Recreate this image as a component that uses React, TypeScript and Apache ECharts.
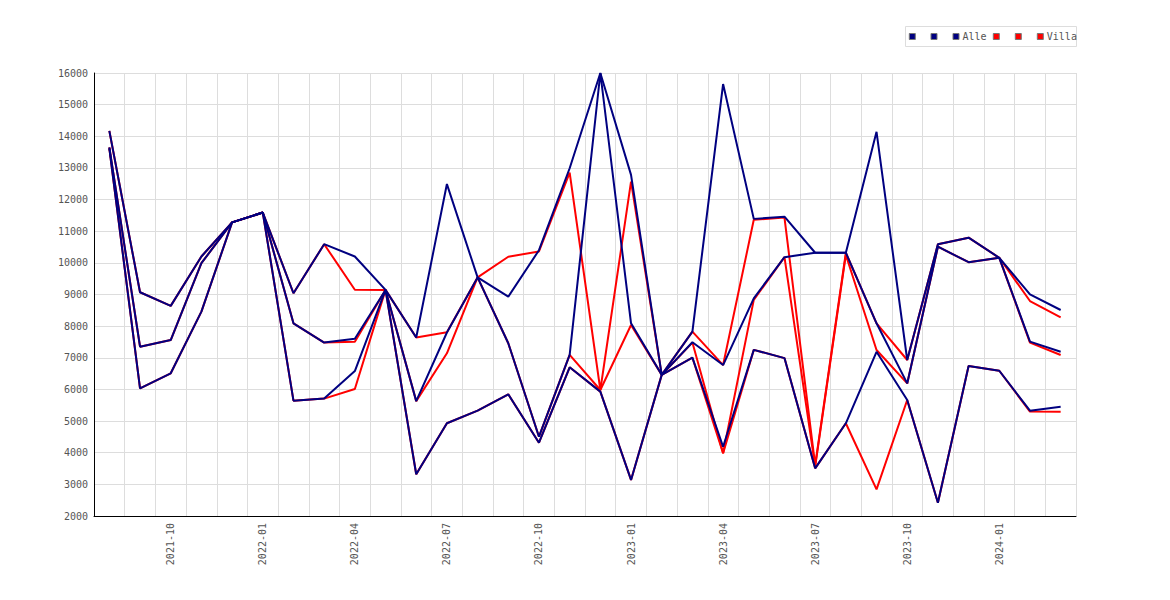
import React, { useEffect, useRef } from 'react';
import * as echarts from 'echarts';

const months = [
  '2021-08', '2021-09', '2021-10', '2021-11', '2021-12',
  '2022-01', '2022-02', '2022-03', '2022-04', '2022-05', '2022-06', '2022-07', '2022-08', '2022-09', '2022-10', '2022-11', '2022-12',
  '2023-01', '2023-02', '2023-03', '2023-04', '2023-05', '2023-06', '2023-07', '2023-08', '2023-09', '2023-10', '2023-11', '2023-12',
  '2024-01', '2024-02', '2024-03',
];

const alleHigh = [14170, 9070, 8640, 10200, 11280, 11590, 9040, 10590, 10200, 9145, 7640, 12490, 9540, 8930, 10400, 12990, 16000, 12780, 6460, 7825, 15650, 11390, 11460, 10320, 10320, 14140, 6930, 10585, 10795, 10160, 9005, 8510];
const alleMid = [13650, 7350, 7560, 9990, 11280, 11590, 8090, 7480, 7600, 9145, 5630, 7800, 9540, 7460, 4506, 7090, 16000, 8090, 6460, 7490, 6770, 8880, 10180, 10320, 10320, 8090, 6190, 10510, 10020, 10160, 7510, 7190];
const alleLow = [13620, 6035, 6510, 8460, 11280, 11590, 5645, 5710, 6580, 9145, 3320, 4930, 5330, 5846, 4316, 6700, 5930, 3140, 6460, 7003, 4190, 7250, 6990, 3507, 4930, 7190, 5666, 2420, 6740, 6590, 5327, 5454];

const villaHigh = [14170, 9070, 8640, 10200, 11280, 11590, 9040, 10590, 9150, 9145, 7640, 7810, 9540, 10194, 10360, 12850, 5982, 12565, 6460, 7825, 6770, 11360, 11430, 3610, 10320, 8090, 6930, 10585, 10795, 10160, 8794, 8279];
const villaMid = [13650, 7350, 7560, 9990, 11280, 11590, 8090, 7480, 7510, 9145, 5630, 7141, 9540, 7460, 4506, 7090, 5982, 8036, 6460, 7480, 3982, 8830, 10180, 3560, 10250, 7246, 6190, 10510, 10020, 10160, 7480, 7088];
const villaLow = [13620, 6035, 6510, 8460, 11280, 11590, 5645, 5710, 6013, 9145, 3320, 4930, 5330, 5846, 4316, 6700, 5930, 3140, 6460, 7003, 3982, 7250, 6990, 3507, 4930, 2843, 5666, 2420, 6740, 6590, 5300, 5296];

const yTicks = { min: 2000, max: 16000, step: 1000 };

const legendLabels = ['', '', 'Alle', '', '', 'Villa'];

const NAVY = '#000080';
const RED = '#ff0000';
const FONT = "'DejaVu Sans Mono', monospace";

function line(name: string, data: number[], color: string) {
  return {
    name,
    type: 'line',
    data,
    symbol: 'none',
    showSymbol: false,
    silent: true,
    lineStyle: { color, width: 2 },
    itemStyle: { color },
    emphasis: { disabled: true },
  };
}

function buildLegend() {
  const iconCenters = [912.3, 934, 956, 996.3, 1018.3, 1040.3];
  const colors = [NAVY, NAVY, NAVY, RED, RED, RED];
  const cy = 36.5;
  const children: any[] = [
    {
      type: 'rect',
      shape: { x: 905.5, y: 26.5, width: 171, height: 20 },
      style: { fill: '#fff', stroke: '#ddd', lineWidth: 1 },
      silent: true,
    },
  ];
  iconCenters.forEach((cx, i) => {
    children.push({
      type: 'rect',
      shape: { x: cx - 3, y: cy - 3, width: 6, height: 6 },
      style: { fill: colors[i], stroke: '#777', lineWidth: 1 },
      silent: true,
    });
    if (legendLabels[i]) {
      children.push({
        type: 'text',
        x: cx + 6.5,
        y: cy,
        style: {
          text: legendLabels[i],
          fill: '#555',
          font: `10px ${FONT}`,
          textAlign: 'left',
          textVerticalAlign: 'middle',
        },
        silent: true,
      });
    }
  });
  return [{ type: 'group', children }];
}

export default function App() {
  const ref = useRef<HTMLDivElement>(null);

  useEffect(() => {
    const chart = echarts.init(ref.current!, null, { renderer: 'svg' });
    chart.setOption({
      animation: false,
      backgroundColor: '#fff',
      grid: { left: 94, right: 94, top: 73, bottom: 84, containLabel: false },
      legend: { show: false },
      graphic: buildLegend(),
      xAxis: {
        type: 'category',
        data: months,
        boundaryGap: true,
        axisLine: { show: true, lineStyle: { color: '#000', width: 1 } },
        axisTick: { show: false },
        axisLabel: {
          rotate: 90,
          interval: (index: number) => index % 3 === 2,
          color: '#555',
          fontFamily: FONT,
          fontSize: 10,
          margin: 7,
        },
        splitLine: { show: true, interval: 0, lineStyle: { color: '#ddd', width: 1 } },
      },
      yAxis: {
        type: 'value',
        min: yTicks.min,
        max: yTicks.max,
        interval: yTicks.step,
        axisLine: { show: true, lineStyle: { color: '#000', width: 1 } },
        axisTick: { show: false },
        axisLabel: {
          color: '#555',
          fontFamily: FONT,
          fontSize: 10,
          margin: 6,
          formatter: (v: number) => String(v),
        },
        splitLine: { show: true, lineStyle: { color: '#ddd', width: 1 } },
      },
      series: [
        line('Villa_1', villaHigh, RED),
        line('Villa_2', villaMid, RED),
        line('Villa', villaLow, RED),
        line('Alle_1', alleHigh, NAVY),
        line('Alle_2', alleMid, NAVY),
        line('Alle', alleLow, NAVY),
      ],
    });
    return () => chart.dispose();
  }, []);

  return (
    <div
      ref={ref}
      style={{ position: 'fixed', left: 0, top: 0, width: 1170, height: 600, background: '#fff' }}
    />
  );
}
